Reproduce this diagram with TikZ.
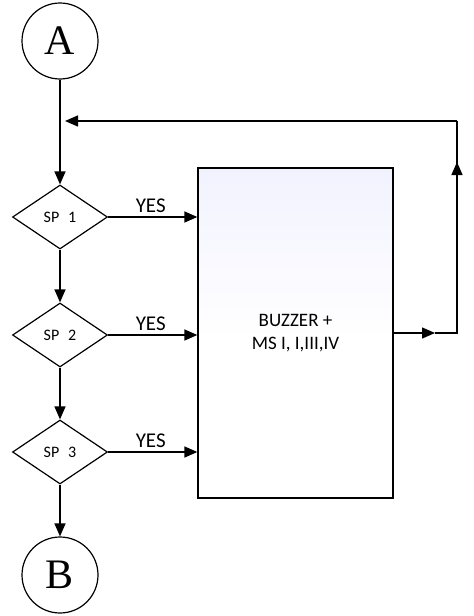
\documentclass[tikz,border=0pt]{standalone}
\usepackage{fontspec}
\setmainfont{Carlito}
\newfontfamily\serifA{Liberation Serif}
\usetikzlibrary{shapes.geometric,arrows.meta,calc}
\begin{document}
\begin{tikzpicture}[x=1pt,y=-1pt,
  ln/.style={line width=1.4pt},
  arr/.style={ln,-{Triangle[length=13pt,width=11pt]}},
  conn/.style={circle,draw,line width=1.2pt,minimum size=76pt,inner sep=0pt,font=\serifA\fontsize{42}{42}\selectfont},
  dec/.style={diamond,draw,line width=1.2pt,minimum width=95pt,minimum height=64pt,inner sep=0pt,font=\fontsize{16}{16}\selectfont},
  yes/.style={font=\fontsize{21}{21}\selectfont,above,inner sep=4pt}]
\useasboundingbox (0,0) rectangle (474,616);
\node[conn] (A) at (60,41) {A};
\node[conn] (B) at (60,575) {B};
\node[dec] (sp1) at (60,217) {SP\,\, 1};
\node[dec] (sp2) at (60,335) {SP\,\, 2};
\node[dec] (sp3) at (60,452) {SP\,\, 3};
\shade[top color=blue!5!white,bottom color=white] (198,168) rectangle (393,340);
\node[draw,line width=1.3pt,minimum width=195pt,minimum height=330pt,inner sep=0pt,
  align=center,font=\fontsize{19}{23}\selectfont] (box) at (295.5,333) {BUZZER +\\MS I, I,III,IV};
\coordinate (j) at (60,121);
\coordinate (jt) at (65,121);
\coordinate (o1) at (435,333);
\coordinate (r1) at (457,333);
\coordinate (u1) at (457,162);
\coordinate (r2) at (457,121);
% main column
\draw[ln] (A.south) -- (j);
\draw[arr] (j) -- (sp1.north);
\draw[arr] (sp1.south) -- (sp2.north);
\draw[arr] (sp2.south) -- (sp3.north);
\draw[arr] (sp3.south) -- (B.north);
% yes branches
\draw[arr] (sp1.east) -- node[yes,xshift=-2pt]{YES} (box.west |- sp1.east);
\draw[arr] (sp2.east) -- node[yes,xshift=-2pt]{YES} (box.west |- sp2.east);
\draw[arr] (sp3.east) -- node[yes,xshift=-2pt]{YES} (box.west |- sp3.east);
% feedback loop
\draw[arr] (box.east) -- (o1);
\draw[ln] (o1) -- (r1) -- (u1);
\draw[arr] (r1) -- (u1);
\draw[ln] (u1) -- (r2);
\draw[arr] (r2) -- (jt);
\end{tikzpicture}
\end{document}
